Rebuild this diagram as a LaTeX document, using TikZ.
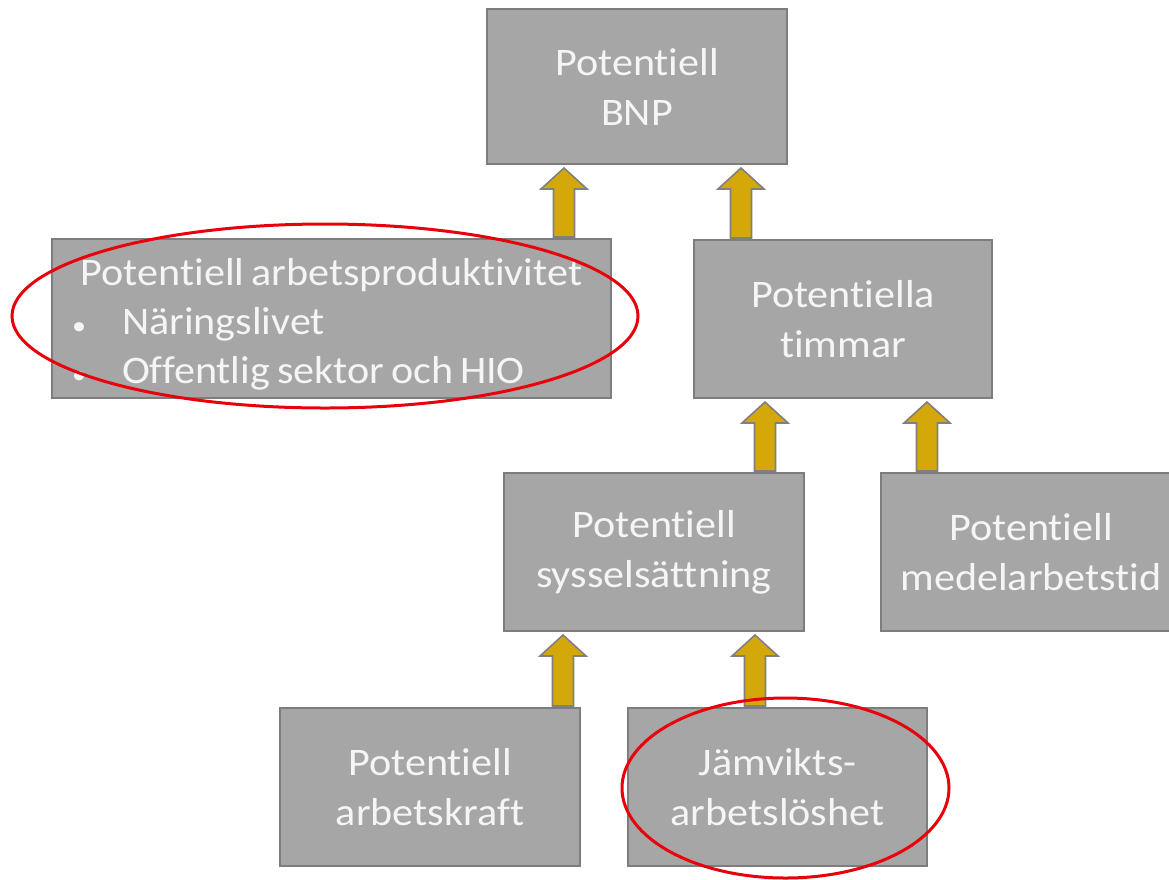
\documentclass[tikz,border=0pt]{standalone}
\usepackage{fontspec}
\setmainfont[Ligatures=CommonOff, FakeStretch=1.08]{Carlito}
\usetikzlibrary{calc}
\definecolor{boxfill}{RGB}{166,166,166}
\definecolor{boxline}{RGB}{125,125,125}
\definecolor{arrfill}{RGB}{212,168,8}
\definecolor{arrline}{RGB}{128,128,128}
\definecolor{ringred}{RGB}{232,0,10}
\definecolor{txt}{RGB}{245,245,245}
\tikzset{
  box/.style={draw=boxline, line width=2pt, fill=boxfill, text=txt, inner sep=0pt,
    align=center, font=\fontsize{39}{50}\selectfont, minimum width=300pt, minimum height=158pt},
  blockarrow/.style={draw=arrline, fill=arrfill, line width=1.6pt, line join=miter},
  ring/.style={draw=ringred, line width=3pt}
}
\newcommand\blockarr[3]{%
  \path[blockarrow] let \p1=(#2.north), \p2=(#3.south) in
    ({#1pt-10.5pt},{\y1+1pt}) -- ({#1pt-10.5pt},{\y2-24pt}) -- ({#1pt-23pt},{\y2-24pt})
    -- ({#1pt},{\y2-3pt}) -- ({#1pt+23pt},{\y2-24pt}) -- ({#1pt+10.5pt},{\y2-24pt})
    -- ({#1pt+10.5pt},{\y1+1pt}) -- cycle;}
\newcommand\bul{\makebox[44pt][l]{\hspace*{-6pt}\fontsize{26}{26}\selectfont •}}
\newcommand\tightsp{\spaceskip=7pt plus 1pt\relax\xspaceskip=7pt plus 1pt\relax}
\begin{document}
\begin{tikzpicture}[x=1pt,y=-1pt]
\useasboundingbox (0,0) rectangle (1169,879);
\clip (0,0) rectangle (1169,879);
\fill[white] (0,0) rectangle (1169,879);
\node[box, minimum height=155pt] (bnp) at (637,86.5) {Potentiell\\BNP};
\node[box, minimum width=559pt, minimum height=159pt] (prod) at (331.5,318.5) {};
\node[text=txt, inner sep=0pt, text width=507pt, align=left,
  font=\fontsize{39}{49}\selectfont]
  (prodtext) at (331.5,324)
  {\tightsp\makebox[507pt][c]{\tightsp Potentiell arbetsproduktivitet}\\
   \bul Näringslivet\\
   \bul Offentlig sektor och HIO};
\node[box, minimum width=298pt] (tim) at (843,319) {Potentiella\\timmar};
\node[box] (sys) at (654,552) {Potentiell\\sysselsättning};
\node[box] (med) at (1031,552) {Potentiell\\medelarbetstid};
\node[box] (kraft) at (430,787) {Potentiell\\arbetskraft};
\node[box, minimum width=299pt] (jam) at (777.5,787) {Jämvikts-\\arbetslöshet};
\blockarr{564}{prod}{bnp}
\blockarr{741}{tim}{bnp}
\blockarr{765}{sys}{tim}
\blockarr{927}{med}{tim}
\blockarr{563}{kraft}{sys}
\blockarr{755}{jam}{sys}
\draw[ring] (325,316) ellipse [x radius=313, y radius=92];
\draw[ring] (785.5,788) ellipse [x radius=163.5, y radius=90];
\end{tikzpicture}
\end{document}
